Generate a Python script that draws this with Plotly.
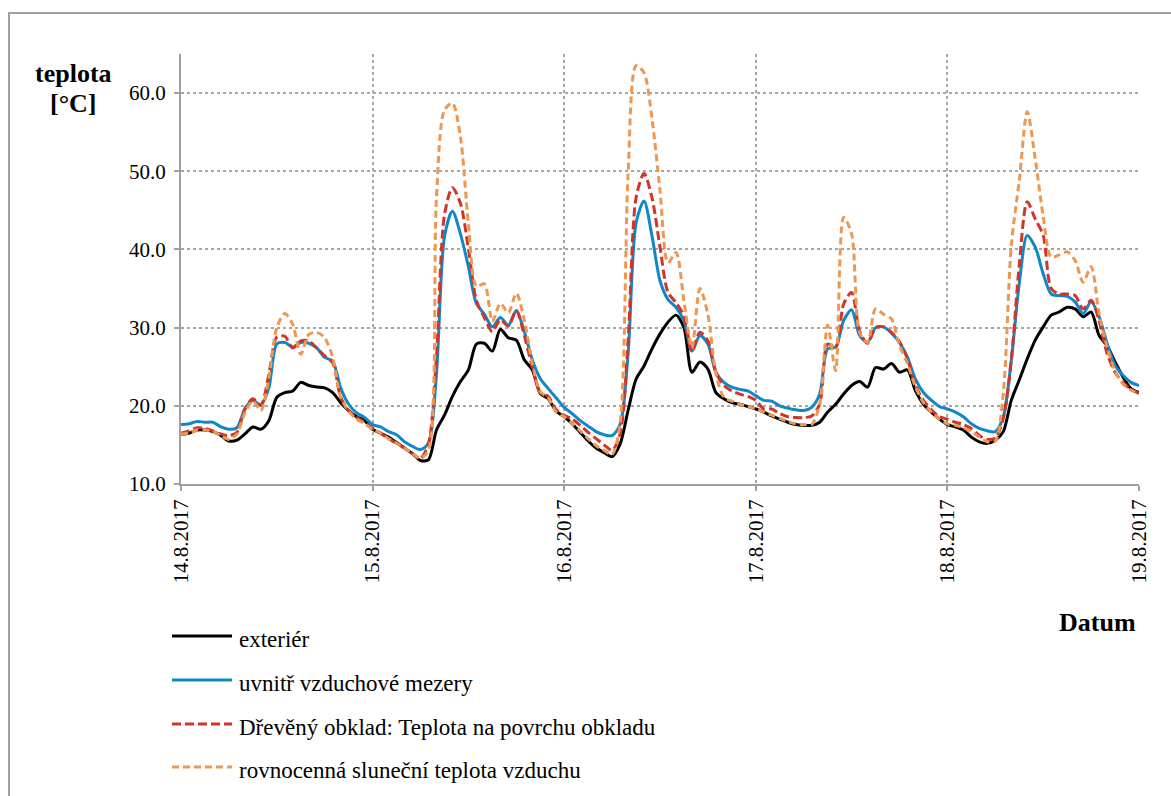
import pandas as pd
import plotly.graph_objects as go

# ---------------- data (hourly, 14.8.2017 00:00 .. 19.8.2017 00:00) ----------------
series_names = [
    "exteriér",
    "uvnitř vzduchové mezery",
    "Dřevěný obklad: Teplota na povrchu obkladu",
    "rovnocenná sluneční teplota vzduchu",
]

exterier = [
    16.4, 16.5, 16.9, 16.9, 16.7, 16.2, 15.5, 15.6, 16.4, 17.3, 17.0, 18.1,
    21.1, 21.7, 21.9, 23.0, 22.6, 22.4, 22.3, 21.7, 20.4, 19.4, 18.6, 18.1,
    17.0, 16.5, 16.0, 15.3, 14.6, 13.9, 13.0, 13.1, 16.9, 18.8, 21.2, 23.1,
    24.6, 27.9, 28.0, 27.0, 29.8, 28.7, 28.4, 25.9, 24.6, 21.6, 20.9, 19.3,
    18.6, 17.7, 16.6, 15.5, 14.6, 14.0, 13.5, 15.1, 19.4, 23.4, 25.1, 27.3,
    29.2, 30.7, 31.6, 30.0, 24.3, 25.6, 24.7, 21.7, 20.9, 20.4, 20.2, 19.9,
    19.6, 19.2, 18.7, 18.3, 17.9, 17.6, 17.5, 17.5, 17.9, 19.2, 20.2, 21.5,
    22.6, 23.1, 22.4, 24.9, 24.7, 25.4, 24.3, 24.6, 21.9, 20.2, 19.2, 18.3,
    17.6, 17.3, 16.9, 16.0, 15.4, 15.2, 15.6, 16.7, 20.7, 23.3, 26.0, 28.4,
    30.1, 31.6, 32.0, 32.6, 32.4, 31.4, 32.0, 29.0, 27.7, 25.6, 23.7, 22.2,
    21.7,
]

mezera = [
    17.6, 17.7, 18.0, 17.9, 17.9, 17.3, 17.0, 17.2, 19.6, 20.7, 20.1, 22.3,
    27.9, 28.1, 27.5, 28.1, 28.0, 27.4, 26.2, 25.7, 22.3, 20.2, 19.1, 18.5,
    17.6, 17.3, 16.7, 16.3, 15.4, 14.8, 14.4, 15.2, 24.1, 41.6, 44.9, 42.0,
    37.8, 33.1, 31.7, 30.1, 31.3, 30.3, 32.2, 29.5, 25.9, 23.5, 22.2, 21.0,
    19.8, 19.0, 18.1, 17.4, 16.7, 16.3, 16.2, 17.6, 26.6, 43.4, 46.2, 41.7,
    36.0, 33.6, 32.6, 30.9, 27.0, 29.0, 27.9, 24.3, 23.0, 22.4, 22.1, 21.9,
    21.3, 20.7, 20.6, 20.0, 19.7, 19.5, 19.4, 19.8, 21.5, 27.3, 27.5, 30.9,
    32.3, 29.0, 28.1, 30.0, 30.1, 29.3, 28.1, 26.2, 23.4, 21.7, 20.7, 19.9,
    19.6, 19.2, 18.6, 17.7, 17.1, 16.8, 16.7, 18.6, 25.8, 35.6, 41.8, 40.3,
    36.9, 34.3, 34.1, 34.0, 33.3, 31.8, 33.3, 31.4, 28.0, 25.2, 23.9, 23.0,
    22.6,
]

obklad = [
    16.5, 16.8, 17.2, 17.1, 16.8, 16.4, 16.2, 16.6, 19.6, 20.9, 20.1, 24.0,
    28.8, 28.9, 27.4, 28.3, 28.3, 27.4, 26.4, 25.5, 21.1, 19.4, 18.5, 17.9,
    17.1, 16.5, 15.8, 15.2, 14.6, 13.9, 13.3, 15.2, 26.3, 44.4, 47.9, 45.9,
    40.1, 33.5, 31.3, 29.5, 31.0, 30.2, 32.2, 29.0, 25.0, 21.7, 21.2, 19.5,
    18.8, 18.3, 17.5, 16.6, 15.8, 15.0, 14.3, 16.4, 28.3, 46.6, 49.7, 46.6,
    40.3, 34.5, 33.2, 31.5, 27.0, 29.4, 28.3, 24.3, 22.6, 21.9, 21.5, 21.2,
    20.7, 19.6, 19.6, 19.0, 18.6, 18.5, 18.5, 18.7, 20.2, 27.9, 27.5, 33.0,
    34.5, 29.6, 28.0, 30.0, 30.1, 29.4, 28.2, 26.0, 22.6, 20.7, 19.5, 18.6,
    18.3, 17.9, 17.6, 17.1, 16.2, 15.7, 15.9, 18.4, 25.8, 38.0, 46.1, 43.9,
    41.8, 35.0, 34.3, 34.3, 34.1, 32.4, 33.5, 30.9, 26.7, 24.3, 23.0, 22.1,
    21.6,
]

slunecni = [
    16.4, 16.5, 16.9, 16.9, 16.7, 16.2, 15.7, 16.4, 19.1, 20.6, 19.4, 23.6,
    30.0, 31.8, 30.4, 26.6, 29.1, 29.4, 28.7, 26.2, 21.1, 19.3, 18.3, 17.7,
    17.0, 16.5, 15.8, 15.2, 14.6, 13.9, 13.3, 14.3, 46.7, 57.8, 58.7, 54.4,
    43.3, 35.3, 35.6, 30.8, 33.1, 31.9, 34.4, 31.0, 25.4, 21.8, 21.0, 19.2,
    18.6, 17.7, 16.8, 15.8, 14.9, 14.3, 13.8, 17.7, 49.6, 63.5, 62.6, 56.7,
    47.5, 38.3, 39.6, 33.4, 27.4, 35.0, 31.7, 24.1, 21.1, 20.6, 20.2, 19.9,
    19.6, 19.2, 18.8, 18.4, 18.0, 17.7, 17.6, 17.6, 20.2, 30.3, 24.5, 44.1,
    42.0, 29.4, 28.1, 32.4, 31.7, 31.1, 27.7, 25.4, 22.4, 20.4, 19.2, 18.3,
    17.7, 17.5, 17.2, 16.7, 16.0, 15.4, 15.5, 21.6, 40.5, 48.8, 57.6, 51.6,
    44.2, 39.0, 39.3, 39.7, 38.6, 35.8, 37.8, 31.8, 27.5, 24.5, 22.8, 22.0,
    21.6,
]

times = pd.date_range("2017-08-14 00:00", periods=len(exterier), freq="h")
day_ticks = pd.date_range("2017-08-14", "2017-08-19", freq="D")
day_labels = ["14.8.2017", "15.8.2017", "16.8.2017", "17.8.2017", "18.8.2017", "19.8.2017"]
y_ticks = [10, 20, 30, 40, 50, 60]

# ---------------- styling ----------------
colors = ["#000000", "#0f87c8", "#d3342a", "#ee9750"]
dashes = ["solid", "solid", "9px,4px", "7px,4px"]
values = [exterier, mezera, obklad, slunecni]

W, H = 1171, 796
L, R, T, B = 181, 1139, 54, 484
SERIF = "Liberation Serif"
GRID = "#a6a6a6"
AXIS = "#a0a0a0"


def px(x):
    return (x - L) / (R - L)


def py(y):
    return (B - y) / (B - T)


fig = go.Figure()
for name, vals, col, dash in zip(series_names, values, colors, dashes):
    fig.add_trace(go.Scatter(
        x=times, y=vals, name=name, mode="lines",
        line=dict(color=col, width=3, dash=dash, shape="spline", smoothing=0.8),
        showlegend=False,
    ))

shapes = []
annotations = []

# outer chart frame
shapes.append(dict(type="rect", xref="paper", yref="paper",
                   x0=px(9), x1=px(1180), y0=py(13), y1=py(805),
                   line=dict(color=AXIS, width=2), fillcolor="rgba(0,0,0,0)", layer="below"))

# manual legend
leg_y = [636, 680, 724, 767]
for name, col, dash, yy in zip(series_names, colors, dashes, leg_y):
    shapes.append(dict(type="line", xref="paper", yref="paper",
                       x0=px(172), x1=px(232), y0=py(yy), y1=py(yy),
                       line=dict(color=col, width=3, dash=dash)))
    annotations.append(dict(text=name, xref="paper", yref="paper",
                            x=px(237), y=py(yy + 3), xanchor="left", yanchor="middle",
                            showarrow=False, font=dict(family=SERIF, size=23, color="black")))

# axis titles
annotations.append(dict(text="<b>teplota</b>", xref="paper", yref="paper",
                        x=px(73), y=py(74), xanchor="center", yanchor="middle",
                        showarrow=False, font=dict(family=SERIF, size=26, color="black")))
annotations.append(dict(text="<b>[°C]</b>", xref="paper", yref="paper",
                        x=px(73), y=py(103), xanchor="center", yanchor="middle",
                        showarrow=False, font=dict(family=SERIF, size=26, color="black")))
annotations.append(dict(text="<b>Datum</b>", xref="paper", yref="paper",
                        x=px(1138), y=py(622), xanchor="right", yanchor="middle",
                        showarrow=False, font=dict(family=SERIF, size=26, color="black")))

fig.update_layout(
    width=W, height=H,
    margin=dict(l=L, r=W - R, t=T, b=H - B, pad=0),
    paper_bgcolor="white", plot_bgcolor="white",
    showlegend=False,
    shapes=shapes, annotations=annotations,
    font=dict(family=SERIF, size=21, color="black"),
)
fig.update_xaxes(
    type="date", range=[day_ticks[0], day_ticks[-1]],
    tickmode="array", tickvals=list(day_ticks), ticktext=day_labels, tickangle=-90,
    showgrid=True, gridcolor=GRID, griddash="dot", gridwidth=1.5,
    showline=True, linecolor=AXIS, linewidth=2,
    ticks="outside", ticklen=5, tickcolor=AXIS, tickwidth=2,
    tickfont=dict(family=SERIF, size=21, color="black"),
    zeroline=False,
)
fig.update_yaxes(
    range=[10, 65], tickmode="array", tickvals=y_ticks, tickformat=".1f",
    showgrid=True, gridcolor=GRID, griddash="dot", gridwidth=1.5,
    showline=True, linecolor=AXIS, linewidth=2,
    ticks="outside", ticklen=5, tickcolor=AXIS, tickwidth=2,
    ticklabelstandoff=4,
    tickfont=dict(family=SERIF, size=21, color="black"),
    zeroline=False,
)

fig.write_html("out.html")
